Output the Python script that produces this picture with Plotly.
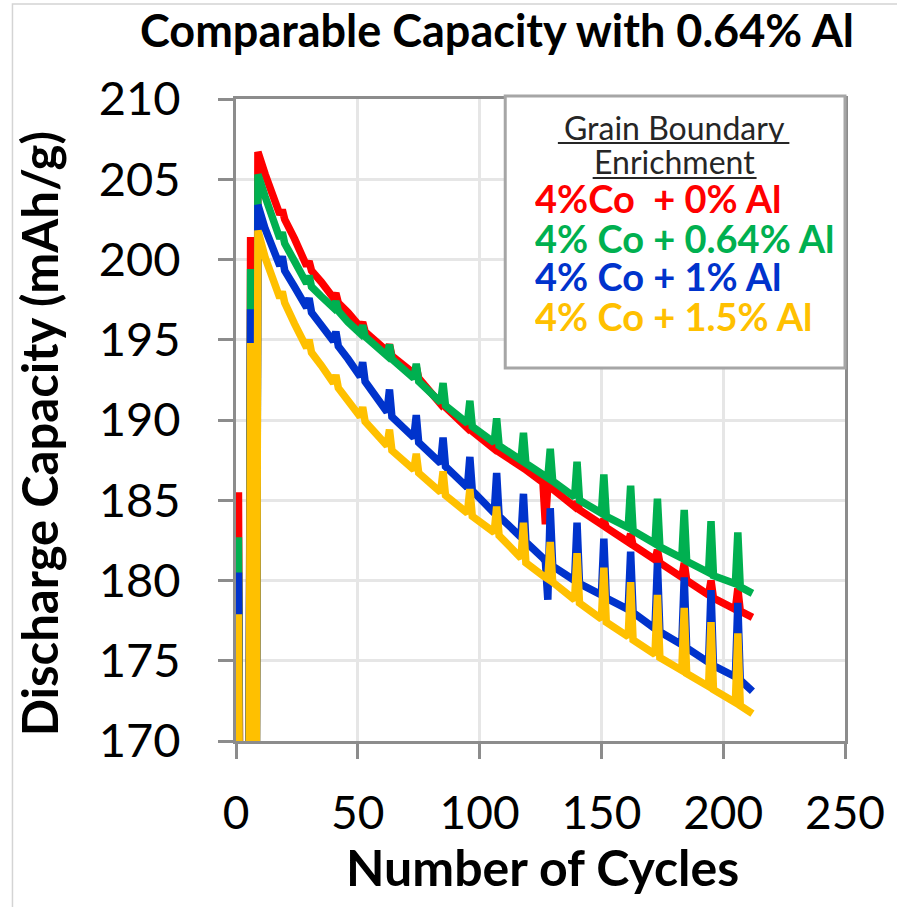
import plotly.graph_objects as go

cycles = [1, 2, 5, 6, 7, 8, 9, 12, 15, 18, 19, 20, 24, 29, 30, 31, 35, 40, 41, 42, 46,
          51, 52, 53, 62, 63, 64, 73, 74, 75, 84, 85, 86, 95, 96, 97, 106, 107, 108,
          117, 118, 119, 126, 127, 128, 129, 130, 139, 140, 141, 150, 151, 152,
          161, 162, 163, 172, 173, 174, 183, 184, 185, 194, 195, 196, 205, 206, 207, 212]

red = [185.5, 150, 150, 201.4, 150, 150, 206.7, 205.3, 204.0, 202.8, 203.1, 202.5, 201.3,
       199.6, 199.9, 199.3, 198.6, 197.6, 197.9, 197.3, 196.7, 195.8, 196.1, 195.5,
       194.3, 194.7, 194.0, 192.9, 193.3, 192.6, 191.0, 191.3, 190.8, 189.5, 189.8, 189.3,
       188.2, 188.5, 188.0, 187.1, 187.5, 186.9, 186.1, 183.5, 185.9, 186.2, 185.7,
       184.6, 184.9, 184.4, 183.5, 183.8, 183.3, 182.4, 182.9, 182.2, 181.3, 181.9, 181.1,
       180.2, 181.1, 180.0, 179.1, 180.0, 178.9, 178.2, 179.5, 178.1, 177.7]

green = [182.7, 150, 150, 199.4, 150, 150, 205.3, 203.9, 202.5, 201.3, 201.7, 201.0, 199.9,
         198.5, 199.0, 198.3, 197.7, 197.0, 197.4, 196.8, 196.1, 195.4, 195.9, 195.2,
         194.0, 194.7, 193.8, 192.6, 193.5, 192.4, 191.1, 192.3, 190.9, 189.8, 191.2, 189.6,
         188.6, 190.1, 188.4, 187.5, 189.2, 187.3, 186.6, 186.5, 186.4, 188.2, 186.2,
         185.2, 187.4, 185.0, 184.2, 186.6, 184.0, 183.3, 185.9, 183.1, 182.3, 185.1, 182.1,
         181.4, 184.4, 181.2, 180.5, 183.7, 180.3, 179.8, 183.0, 179.6, 179.2]

blue = [180.5, 150, 150, 196.9, 150, 150, 203.4, 201.9, 200.6, 199.6, 200.2, 199.3, 198.3,
        197.0, 197.6, 196.7, 195.9, 194.9, 195.5, 194.6, 193.8, 192.7, 193.6, 192.4,
        190.5, 191.9, 190.2, 188.9, 190.3, 188.6, 187.3, 188.9, 187.1, 185.8, 187.7, 185.6,
        184.2, 186.7, 184.0, 182.7, 185.4, 182.4, 181.4, 181.2, 178.8, 184.5, 180.9,
        180.0, 183.6, 179.8, 179.1, 182.6, 178.9, 178.2, 181.8, 178.0, 177.0, 181.1, 176.8,
        176.0, 180.2, 175.8, 174.9, 179.4, 174.7, 174.0, 178.6, 173.8, 173.1]

orange = [177.9, 150, 150, 194.8, 150, 150, 201.8, 200.1, 198.8, 197.6, 198.0, 197.3, 196.0,
          194.5, 195.0, 194.2, 193.4, 192.3, 192.8, 192.0, 191.2, 190.2, 190.8, 189.9,
          188.4, 189.4, 188.1, 186.9, 187.9, 186.7, 185.5, 186.8, 185.3, 184.2, 185.7, 184.0,
          183.0, 184.6, 182.8, 181.4, 183.6, 181.1, 180.3, 180.2, 180.1, 182.4, 179.9,
          178.8, 181.7, 178.6, 177.6, 180.8, 177.4, 176.5, 179.9, 176.3, 175.4, 179.1, 175.2,
          174.4, 178.3, 174.2, 173.4, 177.4, 173.2, 172.4, 176.7, 172.2, 171.7]

series_names = ["4%Co\u00a0 + 0% Al", "4% Co + 0.64% Al", "4% Co + 1% Al", "4% Co + 1.5% Al"]
series_values = [red, green, blue, orange]
series_colors = ["#ff0000", "#00b050", "#0033cc", "#ffc000"]

x_ticks = [0, 50, 100, 150, 200, 250]
y_ticks = [170, 175, 180, 185, 190, 195, 200, 205, 210]

title_text = "Comparable Capacity with 0.64% Al"
x_title = "Number of Cycles"
y_title = "Discharge Capacity (mAh/g)"
legend_header = ["Grain Boundary", "Enrichment"]

W, H = 897, 907
L, R, T, B = 236, 48, 99, 166
PW, PH = W - L - R, H - T - B


def px(x):
    return (x - L) / PW


def py(y):
    return (H - B - y) / PH


FONT = "Lato, 'Open Sans', sans-serif"
AXC = "#8c8c8c"

fig = go.Figure()
for name, vals, col in zip(series_names, series_values, series_colors):
    fig.add_trace(go.Scatter(x=cycles, y=vals, mode="lines", name=name,
                             line=dict(color=col, width=7.5), showlegend=False))

fig.update_layout(
    width=W, height=H,
    margin=dict(l=L, r=R, t=T, b=B, pad=0),
    paper_bgcolor="white", plot_bgcolor="white",
    font=dict(family=FONT, color="black"),
)
fig.update_xaxes(range=[0, 250], tickvals=x_ticks, ticktext=[str(v) for v in x_ticks],
                 showgrid=True, gridcolor="#e6e6e6", gridwidth=2.5, zeroline=False,
                 showline=True, linecolor=AXC, linewidth=3, mirror=True,
                 ticks="outside", ticklen=15, tickwidth=3, tickcolor=AXC,
                 tickfont=dict(size=46, family=FONT, color="black"),
                 ticklabelstandoff=15)
fig.update_yaxes(range=[170, 210], tickvals=y_ticks, ticktext=[str(v) for v in y_ticks],
                 showgrid=True, gridcolor="#e6e6e6", gridwidth=2.5, zeroline=False,
                 showline=True, linecolor=AXC, linewidth=3, mirror=True,
                 ticks="outside", ticklen=15, tickwidth=3, tickcolor=AXC,
                 tickfont=dict(size=47, family=FONT, color="black"),
                 ticklabelstandoff=28)

shapes = []
# faint outer frame
shapes.append(dict(type="rect", xref="paper", yref="paper",
                   x0=px(11), x1=px(905), y0=py(915), y1=py(4),
                   line=dict(color="#d4d4d4", width=1.5), fillcolor="rgba(0,0,0,0)", layer="below"))
# legend box
shapes.append(dict(type="rect", xref="paper", yref="paper",
                   x0=px(507), x1=px(849), y0=py(368), y1=py(96),
                   line=dict(color="#a6a6a6", width=3), fillcolor="white", layer="above"))
# underlines
shapes.append(dict(type="line", xref="paper", yref="paper",
                   x0=px(560), x1=px(793), y0=py(143), y1=py(143),
                   line=dict(color="#262626", width=2)))
shapes.append(dict(type="line", xref="paper", yref="paper",
                   x0=px(595), x1=px(760), y0=py(178), y1=py(178),
                   line=dict(color="#262626", width=2)))
fig.update_layout(shapes=shapes)

ann = []
ann.append(dict(text="<b>" + title_text + "</b>", xref="paper", yref="paper",
                x=px(499), y=py(30), xanchor="center", yanchor="middle", showarrow=False,
                font=dict(size=45, family=FONT, color="black")))
ann.append(dict(text="<b>" + x_title + "</b>", xref="paper", yref="paper",
                x=px(545), y=py(867), xanchor="center", yanchor="middle", showarrow=False,
                font=dict(size=50, family=FONT, color="black")))
ann.append(dict(text="<b>" + y_title + "</b>", xref="paper", yref="paper",
                x=px(38), y=py(434), xanchor="center", yanchor="middle", showarrow=False,
                textangle=-90, font=dict(size=49, family=FONT, color="black")))
ann.append(dict(text=legend_header[0], xref="paper", yref="paper",
                x=px(677), y=py(127), xanchor="center", yanchor="middle", showarrow=False,
                height=33, valign="middle", borderpad=0,
                font=dict(size=32, family=FONT, color="#262626")))
ann.append(dict(text=legend_header[1], xref="paper", yref="paper",
                x=px(677), y=py(161), xanchor="center", yanchor="middle", showarrow=False,
                height=33, valign="middle", borderpad=0,
                font=dict(size=32, family=FONT, color="#262626")))
for name, col, yy in zip(series_names, series_colors, [198, 237, 275, 315]):
    ann.append(dict(text="<b>" + name + "</b>", xref="paper", yref="paper",
                    x=px(536), y=py(yy), xanchor="left", yanchor="middle", showarrow=False,
                    height=37, valign="middle", borderpad=0,
                    font=dict(size=38, family=FONT, color=col)))
fig.update_layout(annotations=ann)

fig.write_html("out.html")
